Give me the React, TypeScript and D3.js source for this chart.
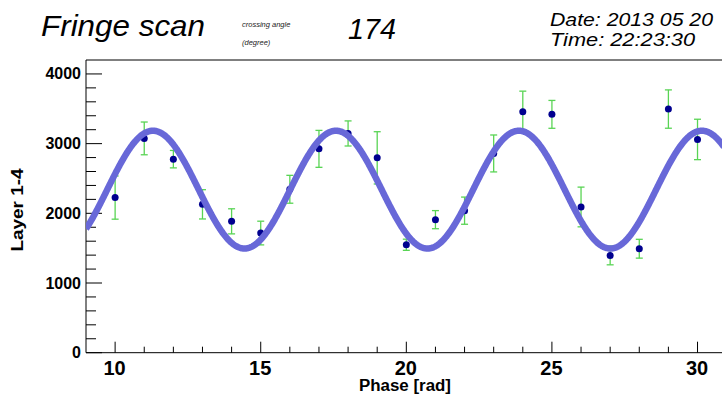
import React from "react";
import * as d3 from "d3";

const phase = [10, 11, 12, 13, 14, 15, 16, 17, 18, 19, 20, 21, 22, 23, 24, 25, 26, 27, 28, 29, 30];
const counts = [2226, 3075, 2777, 2129, 1885, 1717, 2345, 2925, 3146, 2796, 1549, 1909, 2038, 2859, 3458, 3420, 2091, 1396, 1492, 3496, 3060];
const errors = [310, 235, 125, 210, 180, 170, 200, 265, 180, 375, 80, 130, 195, 265, 295, 200, 285, 135, 135, 275, 290];

// fitted cosine: offset + amplitude * cos(x - peak)
const fitOffset = 2340;
const fitAmplitude = 845;
const fitPeak = 11.3;

const xTicks = [10, 15, 20, 25, 30];
const yTicks = [0, 1000, 2000, 3000, 4000];

const W = 722;
const H = 407;
const left = 86;
const top = 60;
const bottom = 352.7;
const xMin = 9;
const xMax = 31;
const pxPerUnit = 29.12;

export default function App() {
  const x = d3.scaleLinear().domain([xMin, xMax]).range([left, left + (xMax - xMin) * pxPerUnit]);
  const y = d3.scaleLinear().domain([0, 4200]).range([bottom, top]);

  const xEnd = x.invert(W + 2);
  const fitXs = d3.range(xMin, xEnd, 0.02).concat([xEnd]);
  const line = d3
    .line<number>()
    .x((d) => x(d))
    .y((d) => y(fitOffset + fitAmplitude * Math.cos(d - fitPeak)))
    .curve(d3.curveLinear);

  const minorX = d3.range(xMin, xEnd, 1).filter((v) => v > xMin && v % 5 !== 0);
  const minorY = d3.range(200, 4200, 200).filter((v) => v % 1000 !== 0);

  const font = "'Liberation Sans', Arial, Helvetica, sans-serif";

  return (
    <svg width={W} height={H} style={{ position: "absolute", left: 0, top: 0, background: "#fff" }} fontFamily={font}>
      <rect x={0} y={0} width={W} height={H} fill="#fff" />
      {/* header */}
      <text x={41} y={36} fontSize={30} fontStyle="italic" textLength={164} lengthAdjust="spacingAndGlyphs">Fringe scan</text>
      <text x={242} y={27} fontSize={7.5} fontStyle="italic" fill="#222">crossing angle</text>
      <text x={242} y={45} fontSize={7.5} fontStyle="italic" fill="#222">(degree)</text>
      <text x={348} y={39} fontSize={29} fontStyle="italic" textLength={48} lengthAdjust="spacingAndGlyphs">174</text>
      <text x={550} y={26} fontSize={19} fontStyle="italic" textLength={163} lengthAdjust="spacingAndGlyphs">Date: 2013 05 20</text>
      <text x={550} y={46} fontSize={19} fontStyle="italic" textLength={145} lengthAdjust="spacingAndGlyphs">Time: 22:23:30</text>

      {/* frame */}
      <path d={`M${W + 5},${top}H${left}V${bottom}H${W + 5}`} fill="none" stroke="#000" strokeWidth={1} />

      {/* y axis ticks */}
      {yTicks.map((t) => (
        <g key={"y" + t}>
          <line x1={left} x2={left + 16} y1={y(t)} y2={y(t)} stroke="#000" />
          <text x={81} y={y(t) + 5.5} fontSize={16} fontWeight="bold" textAnchor="end">{t}</text>
        </g>
      ))}
      {minorY.map((t) => (
        <line key={"my" + t} x1={left} x2={left + 10} y1={y(t)} y2={y(t)} stroke="#000" />
      ))}

      {/* x axis ticks */}
      {xTicks.map((t) => (
        <g key={"x" + t}>
          <line x1={x(t)} x2={x(t)} y1={bottom} y2={bottom - 11} stroke="#000" />
          <text x={x(t) - 0.5} y={374.5} fontSize={20} fontWeight="bold" textAnchor="middle">{t}</text>
        </g>
      ))}
      {minorX.map((t) => (
        <line key={"mx" + t} x1={x(t)} x2={x(t)} y1={bottom} y2={bottom - 6} stroke="#000" />
      ))}

      {/* axis titles */}
      <text x={405} y={391} fontSize={16} fontWeight="bold" textAnchor="middle" textLength={92} lengthAdjust="spacingAndGlyphs">Phase [rad]</text>
      <text
        transform={`translate(23.3,210) rotate(-90)`}
        fontSize={16}
        fontWeight="bold"
        textAnchor="middle"
        textLength={83}
        lengthAdjust="spacingAndGlyphs"
      >
        Layer 1-4
      </text>

      {/* error bars */}
      <g stroke="#59d454" strokeWidth={1.3}>
        {phase.map((p, i) => {
          const cx = x(p);
          const y1 = y(counts[i] + errors[i]);
          const y2 = y(counts[i] - errors[i]);
          return (
            <g key={"e" + i}>
              <line x1={cx} x2={cx} y1={y1} y2={y2} />
              <line x1={cx - 3.5} x2={cx + 3.5} y1={y1} y2={y1} />
              <line x1={cx - 3.5} x2={cx + 3.5} y1={y2} y2={y2} />
            </g>
          );
        })}
      </g>

      {/* points */}
      {phase.map((p, i) => (
        <circle key={"p" + i} cx={x(p)} cy={y(counts[i])} r={3.5} fill="#00008f" />
      ))}

      {/* fit curve */}
      <g clipPath="url(#clipPlot)">
        <defs>
          <clipPath id="clipPlot">
            <rect x={left} y={top} width={W - left} height={bottom - top} />
          </clipPath>
        </defs>
        <path d={line(fitXs) || ""} fill="none" stroke="#6868d8" strokeWidth={6.5} strokeLinejoin="round" />
      </g>
    </svg>
  );
}
